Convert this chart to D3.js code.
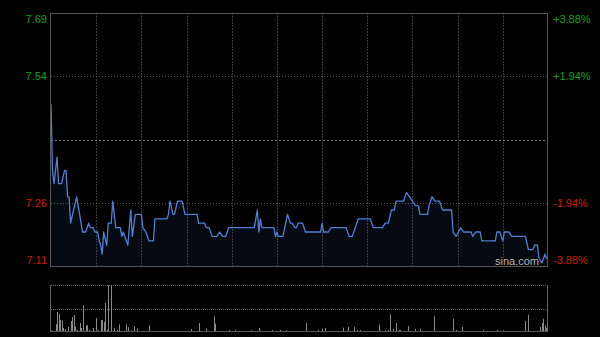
<!DOCTYPE html>
<html>
<head>
<meta charset="utf-8">
<script src="https://cdn.jsdelivr.net/npm/d3@7"></script>
<style>
  html, body { margin: 0; padding: 0; background: #000; }
  svg { display: block; }
</style>
</head>
<body>
<div id="chart"></div>
<script>
const prevClose = 7.40;
const pctTicks = [3.88, 1.94, -1.94, -3.88];
const priceLabels = ["7.69", "7.54", "7.26", "7.11"];
const pctLabels = ["+3.88%", "+1.94%", "-1.94%", "-3.88%"];
const gridMinutes = [30, 60, 90, 120, 150, 180, 210, 240, 270, 300];

// minute index (0..330) and last price at that minute
const priceMinutes = [0, 1, 2, 4, 5, 7, 9, 10, 11, 12, 13, 15, 17, 18, 19, 21, 23, 25, 26, 28, 29, 31, 32, 33, 34, 35, 37, 38, 40, 41, 43, 46, 47, 48, 50, 51, 53, 54, 56, 60, 61, 63, 65, 68, 69, 77, 78, 79, 81, 82, 84, 87, 89, 97, 98, 102, 103, 105, 107, 110, 112, 114, 116, 118, 135, 137, 138, 139, 140, 148, 149, 150, 151, 154, 157, 159, 160, 162, 163, 164, 167, 169, 179, 180, 181, 184, 186, 196, 198, 200, 204, 212, 214, 220, 222, 224, 226, 228, 229, 234, 236, 238, 240, 242, 244, 245, 250, 251, 253, 255, 258, 260, 266, 267, 269, 272, 274, 279, 280, 282, 285, 286, 295, 296, 298, 300, 301, 304, 306, 315, 317, 320, 321, 323, 324, 326, 328, 329, 330];
const prices = [7.48, 7.33, 7.30, 7.36, 7.30, 7.30, 7.33, 7.33, 7.27, 7.27, 7.21, 7.24, 7.27, 7.25, 7.23, 7.19, 7.19, 7.21, 7.20, 7.20, 7.19, 7.19, 7.17, 7.16, 7.14, 7.19, 7.16, 7.21, 7.21, 7.26, 7.20, 7.20, 7.18, 7.19, 7.17, 7.16, 7.24, 7.18, 7.23, 7.23, 7.20, 7.19, 7.17, 7.17, 7.22, 7.22, 7.23, 7.26, 7.23, 7.23, 7.26, 7.26, 7.23, 7.23, 7.21, 7.21, 7.20, 7.20, 7.18, 7.18, 7.19, 7.18, 7.18, 7.20, 7.20, 7.24, 7.19, 7.22, 7.20, 7.20, 7.18, 7.19, 7.18, 7.18, 7.23, 7.21, 7.21, 7.20, 7.20, 7.21, 7.21, 7.19, 7.19, 7.21, 7.19, 7.19, 7.20, 7.20, 7.18, 7.18, 7.22, 7.22, 7.20, 7.20, 7.21, 7.21, 7.24, 7.24, 7.26, 7.26, 7.28, 7.27, 7.26, 7.25, 7.25, 7.23, 7.23, 7.25, 7.27, 7.26, 7.26, 7.24, 7.24, 7.19, 7.18, 7.20, 7.19, 7.19, 7.18, 7.19, 7.19, 7.17, 7.17, 7.19, 7.19, 7.17, 7.19, 7.19, 7.18, 7.18, 7.15, 7.15, 7.16, 7.16, 7.13, 7.12, 7.14, 7.13, 7.13];

// minute index and volume (10k shares) for the visible volume bars
const volMinutes = [0, 3, 4, 5, 6, 7, 8, 9, 11, 13, 14, 15, 16, 17, 19, 20, 21, 23, 24, 25, 28, 30, 31, 33, 34, 35, 36, 37, 38, 40, 42, 44, 45, 47, 50, 51, 53, 55, 57, 59, 65, 68, 79, 85, 93, 98, 103, 108, 109, 118, 122, 133, 138, 147, 152, 156, 169, 177, 180, 182, 194, 197, 201, 203, 205, 218, 222, 224, 225, 227, 229, 231, 232, 237, 242, 245, 254, 267, 269, 273, 287, 296, 300, 311, 315, 317, 325, 326, 327, 328, 329];
const volumes = [17, 77, 200, 180, 120, 117, 40, 30, 50, 110, 150, 170, 50, 20, 90, 40, 267, 67, 67, 20, 40, 140, 20, 120, 117, 100, 290, 20, 470, 470, 40, 20, 77, 10, 77, 50, 17, 57, 33, 10, 67, 10, 10, 10, 30, 90, 33, 157, 83, 20, 20, 17, 40, 20, 20, 17, 90, 20, 33, 40, 43, 50, 50, 20, 20, 77, 17, 20, 177, 33, 90, 20, 20, 60, 30, 33, 157, 133, 20, 50, 20, 20, 17, 10, 110, 173, 50, 90, 133, 67, 43];

const width = 600, height = 337;
const plotL = 51, plotR = 548, plotT = 13, plotB = 266;
const volT = 285, volB = 332;

const svg = d3.select("#chart").append("svg")
  .attr("width", width)
  .attr("height", height)
  .style("background", "#000");

const x = d3.scaleLinear().domain([0, 330]).range([plotL, plotR]);
const y = d3.scaleLinear()
  .domain([prevClose * (1 - 0.0388), prevClose * (1 + 0.0388)])
  .range([plotB, plotT]);
const yv = d3.scaleLinear().domain([0, 470]).range([volB, volT]);

const px = v => Math.round(v) + 0.5;

// vertical grid
svg.append("g").selectAll("line")
  .data(gridMinutes)
  .join("line")
  .attr("x1", d => px(x(d))).attr("x2", d => px(x(d)))
  .attr("y1", plotT).attr("y2", plotB)
  .attr("stroke", "#3a3a3a")
  .attr("stroke-dasharray", "2,1");

// horizontal grid
svg.append("g").selectAll("line")
  .data([1.94, -1.94])
  .join("line")
  .attr("x1", plotL).attr("x2", plotR)
  .attr("y1", d => px(y(prevClose * (1 + d / 100))))
  .attr("y2", d => px(y(prevClose * (1 + d / 100))))
  .attr("stroke", "#555")
  .attr("stroke-dasharray", "1,2");

svg.append("line")
  .attr("x1", plotL).attr("x2", plotR)
  .attr("y1", px(y(prevClose))).attr("y2", px(y(prevClose)))
  .attr("stroke", "#777")
  .attr("stroke-dasharray", "2,2");

// price area and line
const pts = priceMinutes.map((m, i) => [m, prices[i]]);

svg.append("path")
  .datum(pts)
  .attr("fill", "rgba(60,100,180,0.1)")
  .attr("d", d3.area().x(d => x(d[0])).y0(plotB).y1(d => y(d[1])));

svg.append("path")
  .datum(pts)
  .attr("fill", "none")
  .attr("stroke", "#4d80d6")
  .attr("stroke-width", 1.3)
  .attr("stroke-linejoin", "round")
  .attr("d", d3.line().x(d => x(d[0])).y(d => y(d[1])));

// frame
svg.append("rect")
  .attr("x", plotL - 0.5).attr("y", plotT + 0.5)
  .attr("width", plotR - plotL).attr("height", plotB - plotT)
  .attr("fill", "none")
  .attr("stroke", "#555");

// axis labels
const labelY = (d, i) => {
  const yy = y(prevClose * (1 + d / 100));
  if (i === 0) return yy + 6;
  if (i === pctTicks.length - 1) return yy - 6;
  return yy;
};
const colorOf = d => d > 0 ? "#16a016" : "#d01a00";

svg.append("g").selectAll("text")
  .data(pctTicks)
  .join("text")
  .attr("x", 47)
  .attr("y", labelY)
  .attr("text-anchor", "end")
  .attr("dominant-baseline", "central")
  .attr("fill", colorOf)
  .style("font", "11px 'Liberation Sans', Arial, sans-serif")
  .text((d, i) => priceLabels[i]);

svg.append("g").selectAll("text")
  .data(pctTicks)
  .join("text")
  .attr("x", 553)
  .attr("y", labelY)
  .attr("text-anchor", "start")
  .attr("dominant-baseline", "central")
  .attr("fill", colorOf)
  .style("font", "11px 'Liberation Sans', Arial, sans-serif")
  .text((d, i) => pctLabels[i]);

// watermark
svg.append("text")
  .attr("x", 539).attr("y", 261)
  .attr("text-anchor", "end")
  .attr("dominant-baseline", "central")
  .attr("fill", "#bbb")
  .attr("stroke", "#000")
  .attr("stroke-width", 2)
  .attr("paint-order", "stroke")
  .style("font", "11px 'Liberation Sans', Arial, sans-serif")
  .text("sina.com");

// volume panel
svg.append("g").selectAll("line")
  .data([volT, (volT + volB) / 2])
  .join("line")
  .attr("x1", plotL).attr("x2", plotR)
  .attr("y1", d => px(d)).attr("y2", d => px(d))
  .attr("stroke", "#666")
  .attr("stroke-dasharray", "1,1");

svg.append("g").selectAll("line")
  .data(volMinutes)
  .join("line")
  .attr("x1", d => px(x(d))).attr("x2", d => px(x(d)))
  .attr("y1", volB)
  .attr("y2", (d, i) => yv(volumes[i]))
  .attr("stroke", "#8a8a8a");

svg.append("line")
  .attr("x1", plotL).attr("x2", plotR)
  .attr("y1", volB - 0.5).attr("y2", volB - 0.5)
  .attr("stroke", "#555");

svg.append("g").selectAll("line")
  .data([plotL, plotR])
  .join("line")
  .attr("x1", d => d - 0.5).attr("x2", d => d - 0.5)
  .attr("y1", volT).attr("y2", volB)
  .attr("stroke", "#666");
</script>
</body>
</html>
